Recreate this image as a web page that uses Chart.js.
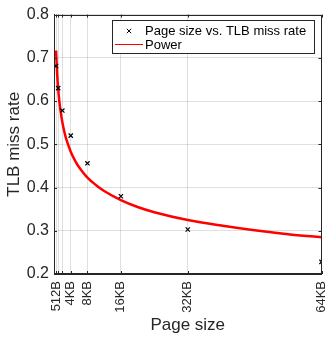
<!DOCTYPE html>
<html>
<head>
<meta charset="utf-8">
<script src="https://cdn.jsdelivr.net/npm/chart.js@4/dist/chart.umd.min.js"></script>
<style>
  html, body { margin: 0; padding: 0; background: #fff; }
  canvas { display: block; }
</style>
</head>
<body>
<canvas id="c" width="327" height="337"></canvas>
<script>
// ---- data ----
const pageSizes = [512, 1024, 2048, 4096, 8192, 16384, 32768, 65536];
const missRates = [0.681, 0.630, 0.578, 0.520, 0.456, 0.380, 0.303, 0.228];

// power-fit curve
const fitX = [512, 640, 768, 896, 1024, 1280, 1536, 2048, 2560, 3072, 4096, 5120, 6144, 8192,
              10240, 12288, 16384, 20480, 24576, 32768, 40960, 49152, 57344, 65536];
const fitY = [0.717, 0.687, 0.663, 0.644, 0.628, 0.602, 0.582, 0.551, 0.528, 0.510, 0.483, 0.463, 0.447, 0.423,
              0.406, 0.392, 0.371, 0.355, 0.343, 0.325, 0.312, 0.301, 0.292, 0.285];

const xTickValues = [512, 1024, 2048, 4096, 8192, 16384, 32768, 65536];
const xTickLabels = ['512B', '', '', '4KB', '8KB', '16KB', '32KB', '64KB'];

const seriesNames = ['Page size vs. TLB miss rate', 'Power'];

const FONT = "'Liberation Sans', Arial, Helvetica, sans-serif";
const AXIS = '#262626';
const GRID = 'rgba(38,38,38,0.15)';

const framePlugin = {
  id: 'frame',
  afterDraw(chart) {
    const ctx = chart.ctx;
    const a = chart.chartArea;
    const xs = chart.scales.x, ys = chart.scales.y;
    ctx.save();
    // box
    ctx.strokeStyle = AXIS;
    ctx.lineWidth = 1;
    ctx.strokeRect(Math.round(a.left) + 0.5, Math.round(a.top) + 0.5,
                   Math.round(a.right - a.left) - 1, Math.round(a.bottom - a.top) - 1);
    // inward ticks
    ctx.beginPath();
    const tl = 3;
    xTickValues.forEach(v => {
      const px = Math.round(xs.getPixelForValue(v)) + 0.5;
      ctx.moveTo(px, a.bottom); ctx.lineTo(px, a.bottom - tl);
      ctx.moveTo(px, a.top); ctx.lineTo(px, a.top + tl);
    });
    ys.ticks.forEach(t => {
      const py = Math.round(ys.getPixelForValue(t.value)) + 0.5;
      ctx.moveTo(a.left, py); ctx.lineTo(a.left + tl, py);
      ctx.moveTo(a.right, py); ctx.lineTo(a.right - tl, py);
    });
    ctx.stroke();

    // legend
    const bx = 112.5, by = 20.5, bw = 202, bh = 33;
    ctx.fillStyle = '#fff';
    ctx.fillRect(bx, by, bw, bh);
    ctx.strokeStyle = AXIS;
    ctx.strokeRect(bx, by, bw, bh);
    // marker
    const mx = 129, my = 31;
    ctx.strokeStyle = '#000';
    ctx.lineWidth = 1;
    ctx.beginPath();
    ctx.moveTo(mx - 2.2, my - 2.2); ctx.lineTo(mx + 2.2, my + 2.2);
    ctx.moveTo(mx + 2.2, my - 2.2); ctx.lineTo(mx - 2.2, my + 2.2);
    ctx.stroke();
    // red line
    ctx.strokeStyle = 'rgb(255,0,0)';
    ctx.lineWidth = 1;
    ctx.beginPath();
    ctx.moveTo(115, 44.5); ctx.lineTo(143, 44.5);
    ctx.stroke();
    ctx.fillStyle = '#000';
    ctx.font = '13px ' + FONT;
    ctx.textBaseline = 'middle';
    ctx.textAlign = 'left';
    ctx.fillText(seriesNames[0], 145, 31);
    ctx.fillText(seriesNames[1], 145, 45);
    ctx.restore();
  }
};

new Chart(document.getElementById('c'), {
  data: {
    datasets: [
      {
        type: 'scatter',
        label: seriesNames[0],
        data: pageSizes.map((x, i) => ({ x: x, y: missRates[i] })),
        pointStyle: 'crossRot',
        pointRadius: 3,
        borderColor: '#000',
        backgroundColor: '#000',
        borderWidth: 1.2,
        showLine: false
      },
      {
        type: 'line',
        label: seriesNames[1],
        data: fitX.map((x, i) => ({ x: x, y: fitY[i] })),
        borderColor: 'rgb(255,0,0)',
        borderWidth: 2.5,
        pointRadius: 0,
        cubicInterpolationMode: 'monotone',
        fill: false
      }
    ]
  },
  options: {
    responsive: false,
    animation: false,
    devicePixelRatio: 1,
    layout: { padding: { top: 14, right: 5.5, bottom: 0, left: 0 } },
    plugins: { legend: { display: false }, tooltip: { enabled: false } },
    scales: {
      x: {
        type: 'linear',
        min: 0,
        max: 65536,
        afterBuildTicks: s => { s.ticks = xTickValues.map(v => ({ value: v })); },
        afterFit: s => { s.height = 63; s.paddingLeft = 0; s.paddingRight = 0; },
        ticks: {
          autoSkip: false,
          minRotation: 90,
          maxRotation: 90,
          padding: 7,
          color: AXIS,
          font: { family: FONT, size: 13 },
          callback: (v) => { const i = xTickValues.indexOf(v); return i >= 0 ? xTickLabels[i] : ''; }
        },
        grid: { color: GRID, drawTicks: false },
        border: { color: AXIS, width: 1 },
        title: {
          display: true,
          text: 'Page size',
          color: AXIS,
          font: { family: FONT, size: 17 },
          padding: { top: 0, bottom: 1 }
        }
      },
      y: {
        min: 0.2,
        max: 0.8,
        afterFit: s => { s.width = 54; },
        ticks: {
          stepSize: 0.1,
          padding: 5,
          color: AXIS,
          font: { family: FONT, size: 16 },
          callback: v => Number(v).toFixed(1)
        },
        grid: { color: GRID, drawTicks: false },
        border: { color: AXIS, width: 1 },
        title: {
          display: true,
          text: 'TLB miss rate',
          color: AXIS,
          font: { family: FONT, size: 17 },
          padding: { top: 4, bottom: 0 }
        }
      }
    }
  },
  plugins: [framePlugin]
});
</script>
</body>
</html>
